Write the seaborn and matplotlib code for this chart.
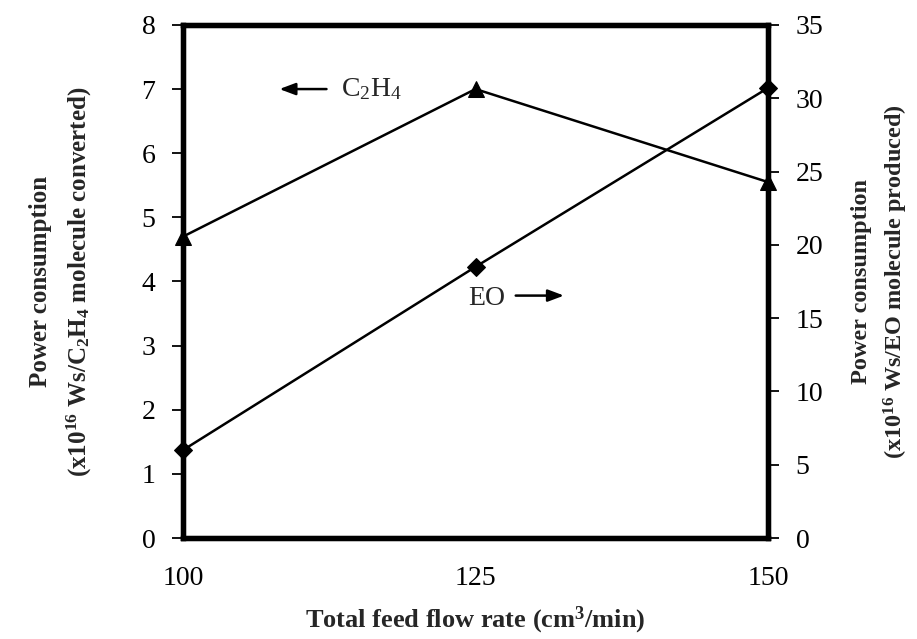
import matplotlib
matplotlib.use("Agg")
import matplotlib.pyplot as plt
import seaborn as sns
import pandas as pd

flow = [100, 125, 150]
c2h4_power = [4.7, 7.0, 5.55]
eo_power = [6.0, 18.5, 30.7]
left_ticks = [0, 1, 2, 3, 4, 5, 6, 7, 8]
right_ticks = [0, 5, 10, 15, 20, 25, 30, 35]
x_ticks = [100, 125, 150]

sns.set_theme(style="white")
plt.rcParams['font.family'] = ['Liberation Serif', 'DejaVu Serif']
plt.rcParams['mathtext.default'] = 'regular'

df_c = pd.DataFrame({"flow": flow, "power": c2h4_power})
df_e = pd.DataFrame({"flow": flow, "power": eo_power})

fig = plt.figure(figsize=(9.17, 6.39), dpi=100)
ax = fig.add_axes([0.1996, 0.158, 0.8375 - 0.1996, 0.961 - 0.158])
ax2 = ax.twinx()

sns.lineplot(data=df_c, x="flow", y="power", ax=ax, color="black", lw=1.8,
             marker="^", markersize=12, markeredgecolor="black", clip_on=False)
sns.lineplot(data=df_e, x="flow", y="power", ax=ax2, color="black", lw=1.8,
             marker="D", markersize=9, markeredgecolor="black", clip_on=False)

ax.set_xlim(100, 150)
ax.set_ylim(0, 8)
ax2.set_ylim(0, 35)
ax.set_xticks(x_ticks)
ax.set_yticks(left_ticks)
ax2.set_yticks(right_ticks)

for a in (ax, ax2):
    for s in a.spines.values():
        s.set_linewidth(3.8)
        s.set_color("black")
    a.tick_params(direction="out", length=8, width=1.3, colors="black",
                  labelsize=20, pad=12)
    a.grid(False)

ax.set_xlabel("Total feed flow rate (cm$^3$/min)", fontsize=19, fontweight="bold", labelpad=10)
ax.set_ylabel("Power consumption\n(x10$^{16}$ Ws/C$_2$H$_4$ molecule converted)",
              fontsize=18, fontweight="bold", labelpad=34, linespacing=1.6)
ax2.set_ylabel("Power consumption\n(x10$^{16}$ Ws/EO molecule produced)",
               fontsize=17.5, fontweight="bold", labelpad=20, linespacing=1.45,
               rotation=90)
ax2.yaxis.set_label_position("right")

ax.annotate("", xy=(108, 7.0), xytext=(112.5, 7.0),
            arrowprops=dict(arrowstyle="-|>,head_length=0.8,head_width=0.3", color="black", lw=1.8))
ax.text(113.5, 7.0, "C$_2$H$_4$", fontsize=20, va="center", ha="left")

ax.text(124.4, 3.74, "EO", fontsize=20, va="center", ha="left")
ax.annotate("", xy=(132.8, 3.78), xytext=(128.2, 3.78),
            arrowprops=dict(arrowstyle="-|>,head_length=0.8,head_width=0.3", color="black", lw=1.8))

fig.savefig("out.png", dpi=100)
